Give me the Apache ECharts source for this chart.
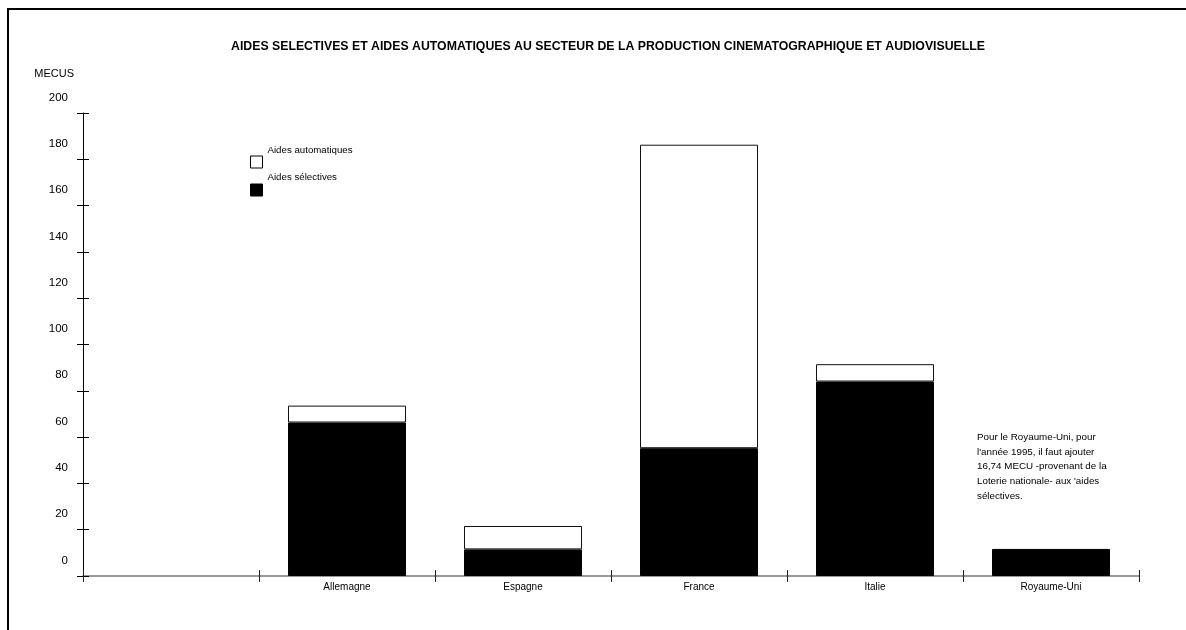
<!DOCTYPE html>
<html>
<head>
<meta charset="utf-8">
<script src="https://cdn.jsdelivr.net/npm/echarts@6/dist/echarts.min.js"></script>
<style>html,body{margin:0;padding:0;background:#fff;}#c{width:1186px;height:630px;}</style>
</head>
<body>
<div id="c"></div>
<script>
var categories = ['', 'Allemagne', 'Espagne', 'France', 'Italie', 'Royaume-Uni'];
var aidesSelectives = [null, 66.3, 11.5, 55.2, 84.0, 11.7];
var aidesAutomatiques = [null, 7.3, 10.1, 131.1, 7.5, null];
var yMin = 0, yMax = 200, yStep = 20;

var FONT = '"Liberation Sans", Arial, sans-serif';
var chart = echarts.init(document.getElementById('c'), null, {renderer: 'canvas'});

var yBase = {
  type: 'value', min: yMin, max: yMax, interval: yStep, position: 'left',
  splitLine: {show: false}
};

function legendText(name) { return name + '\n'; }

chart.setOption({
  backgroundColor: '#fff',
  animation: false,
  title: {
    text: 'AIDES SELECTIVES ET AIDES AUTOMATIQUES AU SECTEUR DE LA PRODUCTION CINEMATOGRAPHIQUE ET AUDIOVISUELLE',
    left: 231, top: 41, padding: 0,
    textStyle: {fontFamily: FONT, fontSize: 12.3, fontWeight: 'bold', color: '#000'}
  },
  legend: [
    {
      data: [{name: 'Aides automatiques', itemStyle: {color: '#fff', borderColor: '#000', borderWidth: 1}}],
      left: 250, top: 138, padding: 0, itemWidth: 12, itemHeight: 12, itemGap: 0, textGap: 5,
      icon: 'rect', selectedMode: false, formatter: legendText,
      textStyle: {fontFamily: FONT, fontSize: 9.7, color: '#000', lineHeight: 24}
    },
    {
      data: [{name: 'Aides sélectives', itemStyle: {color: '#000', borderColor: '#000', borderWidth: 1}}],
      left: 250, top: 165, padding: 0, itemWidth: 12, itemHeight: 12, itemGap: 0, textGap: 5,
      icon: 'rect', selectedMode: false, formatter: legendText,
      textStyle: {fontFamily: FONT, fontSize: 9.7, color: '#000', lineHeight: 25}
    }
  ],
  grid: {left: 83, right: 47, top: 113, bottom: 54, containLabel: false},
  xAxis: [
    {
      type: 'category', data: categories, position: 'bottom',
      axisLine: {lineStyle: {color: '#777', width: 1.5}},
      axisTick: {show: true, length: 6, lineStyle: {color: '#222'}},
      axisLabel: {fontFamily: FONT, fontSize: 10, color: '#000', margin: 6}
    },
    {
      type: 'category', data: categories, position: 'bottom',
      axisLine: {show: false},
      axisTick: {show: true, inside: true, length: 6, lineStyle: {color: '#222'}},
      axisLabel: {show: false}
    }
  ],
  yAxis: [
    Object.assign({}, yBase, {
      name: 'MECUS', nameLocation: 'end', nameGap: 39,
      nameTextStyle: {fontFamily: FONT, fontSize: 11, color: '#000', align: 'right', verticalAlign: 'middle', padding: [0, 9, 0, 0]},
      axisLine: {show: true, lineStyle: {color: '#000', width: 1}},
      axisTick: {show: true, length: 6, lineStyle: {color: '#000'}},
      axisLabel: {fontFamily: FONT, fontSize: 11.5, color: '#000', margin: 15, verticalAlign: 'bottom', lineHeight: 31}
    }),
    Object.assign({}, yBase, {
      axisLine: {show: false},
      axisTick: {show: true, inside: true, length: 6, lineStyle: {color: '#000'}},
      axisLabel: {show: false}
    })
  ],
  series: [
    {
      name: 'Aides sélectives', type: 'bar', stack: 'total', barWidth: 118,
      data: aidesSelectives,
      itemStyle: {color: '#000', borderColor: '#000', borderWidth: 1}
    },
    {
      name: 'Aides automatiques', type: 'bar', stack: 'total', barWidth: 118,
      data: aidesAutomatiques,
      itemStyle: {color: '#fff', borderColor: '#111', borderWidth: 1}
    }
  ],
  graphic: [
    {type: 'line', shape: {x1: 8, y1: 9, x2: 1186, y2: 9}, style: {stroke: '#000', lineWidth: 2}},
    {type: 'line', shape: {x1: 8, y1: 8, x2: 8, y2: 630}, style: {stroke: '#000', lineWidth: 2}},
    {
      type: 'text', left: 977, top: 430,
      style: {
        text: "Pour le Royaume-Uni, pour\nl'année 1995, il faut ajouter\n16,74 MECU -provenant de la\nLoterie nationale- aux 'aides\nsélectives.",
        fontFamily: FONT, fontSize: 9.8, lineHeight: 14.7, fill: '#000'
      }
    }
  ]
});
</script>
</body>
</html>
